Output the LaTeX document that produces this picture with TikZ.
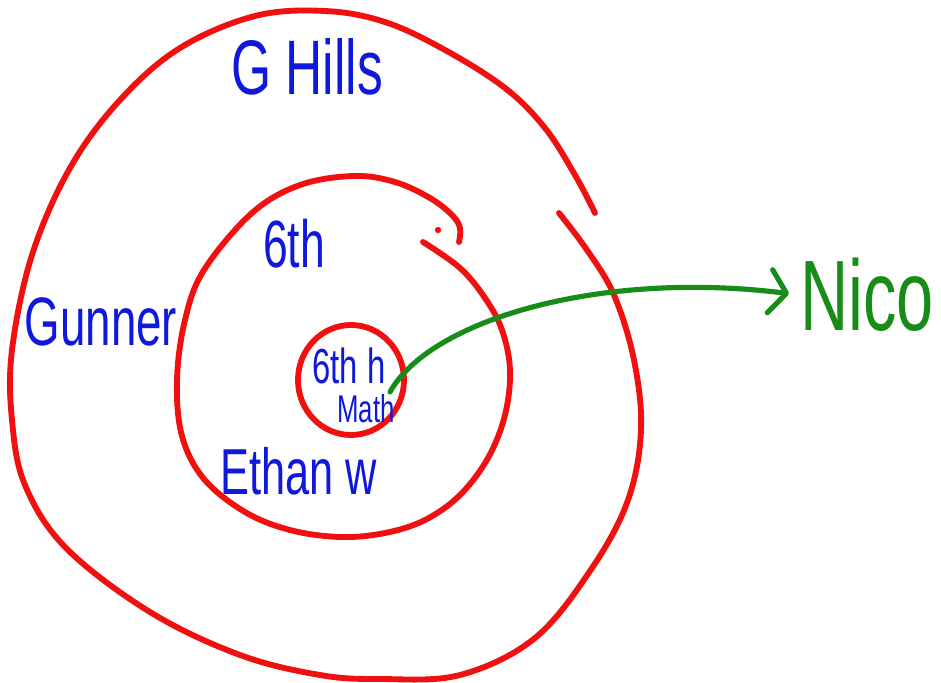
\documentclass[tikz,border=0pt]{standalone}
\usepackage{fontspec}
\setmainfont{Liberation Sans}
\usepackage{graphicx}
\usepackage{tikz}
\usetikzlibrary{arrows.meta}

\definecolor{penred}{RGB}{240,16,16}
\definecolor{penblue}{RGB}{16,24,220}
\definecolor{pengreen}{RGB}{24,140,24}

\newcommand{\tall}[1]{\scalebox{1}[1.5]{#1}}
\newcommand{\pt}[1]{\fontsize{#1}{#1}\selectfont}

\begin{document}
\begin{tikzpicture}[x=0.03cm, y=-0.03cm,
  ring/.style={draw=penred, line width=5pt, line cap=round, line join=round},
  who/.style={text=penblue, inner sep=0pt}]

  \useasboundingbox (0,0) rectangle (941,683);

  % outer ring, open at the top right
  \draw[ring] plot[smooth, tension=0.6] coordinates {
    (595,213) (575,175) (545,128) (505,88) (445,50) (385,22) (325,11)
    (255,16) (180,48) (120,100) (70,168) (32,255) (12,350) (12,420)
    (25,485) (66,548) (150,612) (240,655) (320,675) (380,679) (460,675)
    (535,638) (592,568) (628,500) (641,430) (634,360) (614,295)
    (587,250) (559,213) };

  % middle ring
  \draw[ring] plot[smooth, tension=0.6] coordinates {
    (423,242) (460,268) (485,298) (502,330) (510,370) (505,415)
    (488,458) (460,495) (425,520) (385,533) (340,537) (290,530)
    (245,512) (204,479) (182,436) (177,380) (185,320) (204,270)
    (252,213) (300,185) (354,176) (395,182) (430,198) (452,215)
    (460,228) (459,242) };
  \fill[penred] (438,230) circle (2.7pt);

  % inner ring
  \draw[ring] (351,380) circle [x radius=53, y radius=55];

  \node[who, font=\pt{44}] at (307,67) (ghills) {\tall{G Hills}};
  \node[who, font=\pt{39}] at (101,322) (gunner) {\tall{Gunner}};
  \node[who, font=\pt{38}] at (294,244) (sixth) {\tall{6th}};
  \node[who, font=\pt{37}] at (299,471) (ethan) {\tall{Ethan w}};
  \node[who, font=\pt{28}] at (349,366) (sixthh) {\tall{6th h}};
  \node[who, font=\pt{22}] at (366,409) (math) {\tall{Math}};

  \node[text=pengreen, inner sep=0pt, font=\pt{57}] at (867,295) (nico) {\tall{Nico}};

  \coordinate (mathdot) at (390,392);
  \draw[pengreen, line width=4.4pt, line cap=round,
        -{Straight Barb[round, length=5mm, width=13mm]}, shorten >=0.33cm]
    (mathdot) .. controls (430,320) and (600,270) .. (nico.west);
\end{tikzpicture}
\end{document}
